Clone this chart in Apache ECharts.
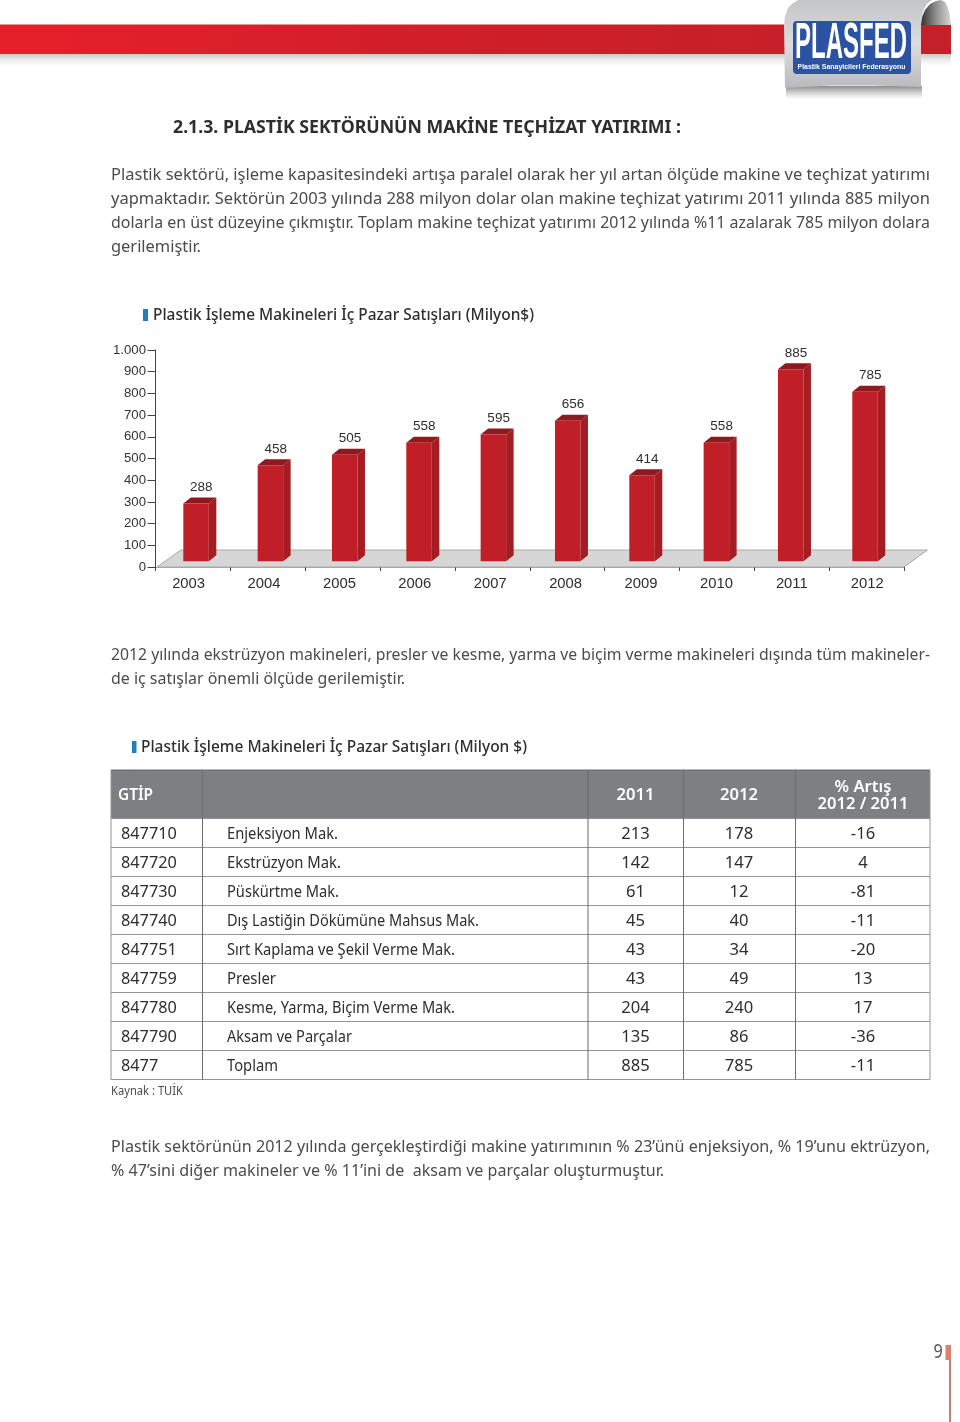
<!DOCTYPE html>
<html><head><meta charset="utf-8">
<style>html,body{margin:0;padding:0;background:#fff}#c{width:960px;height:1422px}</style>
<script src="https://cdn.jsdelivr.net/npm/echarts@6/dist/echarts.min.js"></script>
</head><body><div id="c"></div>
<script>
// ---- data ----
const years = ['2003','2004','2005','2006','2007','2008','2009','2010','2011','2012'];
const sales = [288,458,505,558,595,656,414,558,885,785];
const gtip    = ['847710','847720','847730','847740','847751','847759','847780','847790','8477'];
const machine = ['Enjeksiyon Mak.','Ekstrüzyon Mak.','Püskürtme Mak.','Dış Lastiğin Dökümüne Mahsus Mak.','Sırt Kaplama ve Şekil Verme Mak.','Presler','Kesme, Yarma, Biçim Verme Mak.','Aksam ve Parçalar','Toplam'];
const v2011   = [213,142,61,45,43,43,204,135,885];
const v2012   = [178,147,12,40,34,49,240,86,785];
const change  = [-16,4,-81,-11,-20,13,17,-36,-11];
const heading = '2.1.3. PLASTİK SEKTÖRÜNÜN MAKİNE TEÇHİZAT YATIRIMI :';
const para1 = ['Plastik sektörü, işleme kapasitesindeki artışa paralel olarak her yıl artan ölçüde makine ve teçhizat yatırımı',
 'yapmaktadır. Sektörün 2003 yılında 288 milyon dolar olan makine teçhizat yatırımı 2011 yılında 885 milyon',
 'dolarla en üst düzeyine çıkmıştır. Toplam makine teçhizat yatırımı 2012 yılında %11 azalarak 785 milyon dolara',
 'gerilemiştir.'];
const para2 = ['2012 yılında ekstrüzyon makineleri, presler ve kesme, yarma ve biçim verme makineleri dışında tüm makineler-',
 'de iç satışlar önemli ölçüde gerilemiştir.'];
const para3 = ['Plastik sektörünün 2012 yılında gerçekleştirdiği makine yatırımının % 23’ünü enjeksiyon, % 19’unu ektrüzyon,',
 '% 47’sini diğer makineler ve % 11’ini de  aksam ve parçalar oluşturmuştur.'];
const chartTitle = 'Plastik İşleme Makineleri İç Pazar Satışları (Milyon$)';
const tableTitle = 'Plastik İşleme Makineleri İç Pazar Satışları (Milyon $)';
const tableHead = ['GTİP','2011','2012','% Artış','2012 / 2011'];

// ---- page drawing helpers ----
const FONT='"Noto Sans"', INK='#4b4b4d', DARK='#2e2e30';
const mctx=document.createElement('canvas').getContext('2d');
const els=[];
function txt(s,x,y,o){o=o||{};
  const size=o.size||16,weight=o.weight||'normal',family=o.family||FONT;
  let sx=o.scale||1;
  if(o.width){mctx.font=weight+' '+size+'px '+family;sx=o.width/mctx.measureText(s).width;}
  els.push({type:'text',x:x,y:y+1,scaleX:sx,scaleY:o.scaleY||1,z:o.z||5,silent:true,
    style:{text:s,fontFamily:family,fontSize:size,fontWeight:weight,fill:o.fill||INK,
      textAlign:o.align||'left',textVerticalAlign:'middle',verticalAlign:'middle'}});
}
function rect(x,y,w,h,fill,z,r){els.push({type:'rect',silent:true,z:z||1,shape:{x,y,width:w,height:h,r:r||0},style:{fill}});}
function poly(points,fill,z){els.push({type:'polygon',silent:true,z:z||1,shape:{points},style:{fill}});}
const lg=(x,y,x2,y2,stops)=>new echarts.graphic.LinearGradient(x,y,x2,y2,stops.map((c,i)=>({offset:i/(stops.length-1),color:c})));

// header band
rect(0,54,951,12,lg(0,0,0,1,['#c9c9c9','#ededed','#ffffff']),1);
rect(0,24.5,951,29.5,lg(0,0,1,0,['#e6202b','#cf1f29','#c4202a']),2);
// logo curl + body + shadow
poly([[921,25],[922,17],[925,10],[930,4],[936,1],[941,0],[945,2],[948,8],[950,16],[951,25]],lg(0,0,1,0,['#333333','#8e8e8e','#d8d8d8']),3);
rect(786,86,136,13,lg(0,0,0,1,['#8d8d8d','#d0d0d0','#ffffff']),2);
poly([[785,88],[784,25],[785,16],[788,8],[792,4],[798,0],[932,0],[927,4],[923,11],[921,20],[921,87],[875,85.5],[830,85.5]],
  lg(0,0,0,1,['#c4c5c7','#dcdcde','#b9babc']),4);
rect(793,21,118,53,'#2b53a2',5,4);
txt('PLASFED',795,43.5,{size:50,weight:'bold',family:'"Liberation Sans Narrow","Liberation Sans"',fill:'#fff',width:112,z:6});
txt('Plastik Sanayicileri Federasyonu',797.5,65.5,{size:7.5,weight:'bold',family:'"Liberation Sans"',fill:'#fff',width:108,z:6});

// text blocks
txt(heading,173,127,{size:17.5,weight:'bold',fill:DARK,width:508});
const pw=[819,819,819,90];
para1.forEach((s,i)=>txt(s,111,174+24*i,{size:16.5,width:pw[i]}));
rect(143,309,5,12,'#1f7fc1',5);
txt(chartTitle,153,315,{size:15.5,weight:'500',fill:DARK,width:381});
[819,294].forEach((w,i)=>txt(para2[i],111,654+24*i,{size:16.5,width:w}));
rect(132,741,4.5,12,'#1f7fc1',5);
txt(tableTitle,141,747,{size:15.5,weight:'500',fill:DARK,width:386});
[819,553].forEach((w,i)=>txt(para3[i],111,1146+24*i,{size:16.5,width:w}));

// table
const X=[111,202.5,588,683.5,795.5,930], Y0=770, HH=48.5, RH=29;
const Ybot=Y0+HH+RH*gtip.length;
rect(X[0],Y0,X[5]-X[0],HH,'#7e7f83',1);
const lineC='#939497';
for(let i=0;i<=gtip.length;i++) rect(X[0],Y0+HH+RH*i-0.5,X[5]-X[0],1,lineC,3);
rect(X[0],Y0-0.5,X[5]-X[0],1,'#6a6b6e',3);
X.forEach(x=>rect(x-0.5,Y0,1,Ybot-Y0,x===X[0]||x===X[5]?lineC:'#6a6b6e',3));
const hs={size:15.5,weight:'600',fill:'#fff',align:'center',scale:1.07};
txt(tableHead[0],118,794.5,{size:15.5,weight:'600',fill:'#fff',width:35});
txt(tableHead[1],635.5,794.5,hs); txt(tableHead[2],739,794.5,hs);
txt(tableHead[3],863,786.5,hs); txt(tableHead[4],863,804,hs);
const nameW=[111,114,112,252,228,49,228,125,51];
gtip.forEach((g,i)=>{
  const y=Y0+HH+RH*i+14.7, o={size:15.5,fill:DARK,align:'center',scale:1.07};
  txt(g,121,y,{size:15.5,fill:DARK,width:g.length*9.3});
  txt(machine[i],227,y,{size:15.5,fill:DARK,width:nameW[i]});
  txt(String(v2011[i]),635.5,y,o); txt(String(v2012[i]),739,y,o); txt(String(change[i]),863,y,o);
});
txt('Kaynak : TUİK',111,1090,{size:12.5,width:72});
// page number
txt('9',938,1352,{size:19,align:'center',fill:'#555',scale:.85});
rect(945.5,1345,5.5,15,'#d9826c',2);
rect(949,1360,2,62,'#c77c7a',2);

// ---- chart ----
const AXIS_FONT='"Liberation Sans"';
const chart=echarts.init(document.getElementById('c'));
chart.setOption({
  animation:false,
  backgroundColor:'#fff',
  graphic:{elements:els},
  grid:[
    {left:155.5,top:350,width:748.5,height:217},          // visible axes
    {left:158.9,top:343.4,width:743.3,height:224.8},      // front plane of the pseudo-3D bars
    {left:150.9,top:350,width:754,height:217}             // year labels
  ],
  xAxis:[
    {gridIndex:0,type:'category',data:years,
      axisLine:{show:true,onZero:false,lineStyle:{color:'#a8a8a8',width:1}},
      axisTick:{show:true,length:4,lineStyle:{color:'#444'}},axisLabel:{show:false}},
    {gridIndex:1,type:'category',data:years,show:false},
    {gridIndex:2,type:'category',data:years,
      axisLine:{show:false},axisTick:{show:false},
      axisLabel:{show:true,margin:9,color:'#2e2e30',fontFamily:AXIS_FONT,fontSize:14.8,interval:0}}
  ],
  yAxis:[
    {gridIndex:0,type:'value',min:0,max:1000,interval:100,splitLine:{show:false},
      axisLine:{show:true,lineStyle:{color:'#444',width:1}},
      axisTick:{show:true,length:8,lineStyle:{color:'#444'}},
      axisLabel:{margin:9.5,color:'#333',fontFamily:AXIS_FONT,fontSize:13.2,
        formatter:v=>v===1000?'1.000':String(v)}},
    {gridIndex:1,type:'value',min:0,max:1000,show:false,splitLine:{show:false}},
    {gridIndex:2,type:'value',min:0,max:1000,show:false,splitLine:{show:false}}
  ],
  series:[
    {type:'custom',xAxisIndex:0,yAxisIndex:0,z:1,silent:true,data:[[0,0]],
      renderItem:(p,api)=>{const c=p.coordSys,b=c.y+c.height;
        return {type:'polygon',shape:{points:[[c.x+1.5,b],[c.x+25.5,b-17],[c.x+c.width+23.5,b-17],[c.x+c.width,b]]},
          style:{fill:'#d6d6d6',stroke:'#a8a8a8',lineWidth:1}};}},
    {type:'custom',xAxisIndex:1,yAxisIndex:1,z:3,silent:true,
      data:sales.map((v,i)=>[i,v]),encode:{x:0,y:1},
      renderItem:(p,api)=>{
        const i=api.value(0),v=api.value(1),t=api.coord([i,v]),b=api.coord([i,0]);
        const w=api.size([1,0])[0]*0.343,dx=7.5,dy=6,l=t[0]-w/2,r=t[0]+w/2,top=t[1],bot=b[1]-7;
        return {type:'group',children:[
          {type:'polygon',shape:{points:[[r,top],[r+dx,top-dy],[r+dx,bot-dy],[r,bot]]},style:{fill:'#a31d23'}},
          {type:'polygon',shape:{points:[[l,top],[l+dx,top-dy],[r+dx,top-dy],[r,top]]},style:{fill:'#8e1a1f'}},
          {type:'rect',shape:{x:l,y:top,width:w,height:bot-top},style:{fill:'#c01f27'}},
          {type:'text',x:t[0]+dx/2+1.5,y:top-16,style:{text:String(v),fontFamily:AXIS_FONT,fontSize:13.5,fill:'#2e2e30',
            textAlign:'center',textVerticalAlign:'middle',verticalAlign:'middle'}}
        ]};
      }}
  ]
});
</script></body></html>
